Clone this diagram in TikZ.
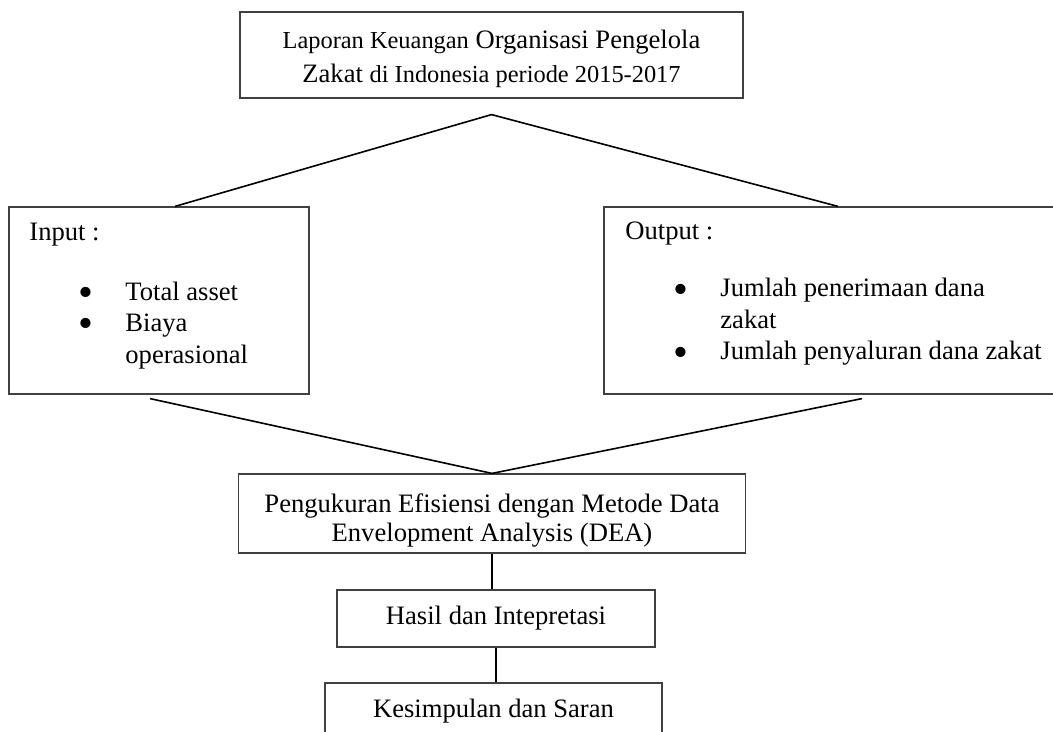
\documentclass[tikz,border=0pt]{standalone}
\usepackage{fontspec}
\setmainfont{Liberation Serif}
\newcommand{\titik}{\raisebox{-3.2pt}[0pt][0pt]{\scalebox{1.6}{\textbullet}}}

\begin{document}
\begin{tikzpicture}[
	x=0.5pt, y=-0.5pt,
	font=\fontsize{13.3}{15.75}\selectfont,
	kotak/.style={rectangle, draw=black!75, line width=0.6pt, inner sep=0pt, align=center},
	teks/.style={inner sep=0pt, anchor=base west},
	garis/.style={line width=0.8pt, black},
]
\useasboundingbox (0,0) rectangle (1053,732);
\node[kotak, minimum width=251.5pt, minimum height=43pt, font=\fontsize{13.3}{17}\selectfont] (lap) at (491.5,55) {\rule{0pt}{13pt}{\fontsize{12.2}{17}\selectfont Laporan Keuangan} Organisasi Pengelola\\ Zakat {\fontsize{12.2}{17}\selectfont di Indonesia periode 2015-2017}};
\node[kotak, minimum width=150pt, minimum height=93.5pt] (input) at (159,300.5) {};
\node[kotak, minimum width=228pt, minimum height=93.5pt] (output) at (832,300.5) {};
\node[teks] (inhead) at (29,241) {Input :};
\node[teks] (inlist) at (78,300) {\begin{tabular}[t]{@{}p{23.5pt}@{}l@{}}\titik & Total asset\\ \titik & Biaya\\ & operasional\end{tabular}};
\node[teks] (outhead) at (625,240) {Output :};
\node[teks] (outlist) at (673,297) {\begin{tabular}[t]{@{}p{23.5pt}@{}l@{}}\titik & Jumlah penerimaan dana\\ & zakat\\ \titik & Jumlah penyaluran dana zakat\end{tabular}};
\node[kotak, minimum width=253.5pt, minimum height=39.5pt, font=\fontsize{13.3}{14.5}\selectfont] (dea) at (492,513.5) {\rule{0pt}{16pt}Pengukuran Efisiensi dengan Metode Data\\ Envelopment Analysis (DEA)};
\node[kotak, minimum width=159pt, minimum height=28.5pt] (hasil) at (496,618.5) {Hasil dan Intepretasi};
\node[kotak, minimum width=168.5pt, minimum height=28.5pt] (simpul) at (493.5,711.5) {Kesimpulan dan Saran};
% garis penghubung
\coordinate (cabang) at ([yshift=-8pt]lap.south);
\draw[garis] ([xshift=8pt]input.north) -- (cabang) -- ([xshift=3pt]output.north);
\draw[garis] ([shift={(-4.5pt,-2pt)}]input.south) -- (dea.north) -- ([shift={(15pt,-2pt)}]output.south);
\draw[garis] (dea.south) -- (dea.south |- hasil.north);
\draw[garis] (hasil.south) -- (hasil.south |- simpul.north);
\end{tikzpicture}
\end{document}
